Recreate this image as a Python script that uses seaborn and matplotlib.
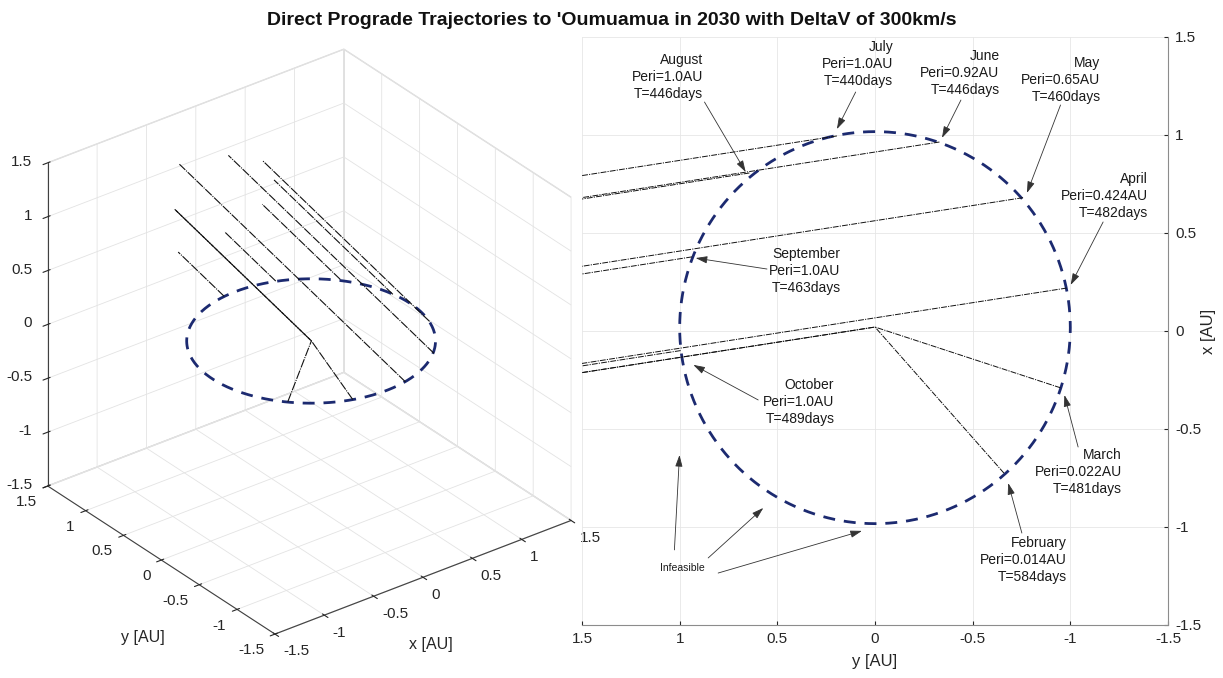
import numpy as np
import matplotlib
matplotlib.use("Agg")
import matplotlib.pyplot as plt
import seaborn as sns
from matplotlib.ticker import FormatStrFormatter

sns.set_style("white")
plt.rcParams['font.family'] = ['Liberation Sans', 'DejaVu Sans']
plt.rcParams['axes.unicode_minus'] = False
plt.rcParams['grid.color'] = '#e3e3e3'
plt.rcParams['grid.linewidth'] = 0.6

# launch month, Earth position on its orbit [AU]
months = ['February', 'March', 'April', 'May', 'June', 'July', 'August', 'September', 'October']
earth_x = [-0.725, -0.29, 0.219, 0.68, 0.964, 0.995, 0.806, 0.378, -0.10]
earth_y = [-0.66, -0.95, -0.982, -0.758, -0.33, 0.195, 0.643, 0.937, 0.995]
peri = ['0.014', '0.022', '0.424', '0.65', '0.92', '1.0', '1.0', '1.0', '1.0']
tof = [584, 481, 482, 460, 446, 440, 446, 463, 489]
# Feb / March swing round the Sun first
via_sun = [True, True, False, False, False, False, False, False, False]
sun_pass = (0.02, 0.0)
# outbound asymptote: change in x and z per AU of y
out_dx = -0.155
out_dz = 0.41

orbit_center = (0.017, 0.0)
orbit_r = 1.0
lim = 1.5
ticks = [-1.5, -1, -0.5, 0, 0.5, 1, 1.5]
tick_text = ['%g' % t for t in ticks]

# label placement in the top view (y of right edge, x of middle line) and arrows
label_y = [-0.982, -1.264, -1.398, -1.155, -0.637, -0.093, 0.879, 0.176, 0.208]
label_x = [-1.168, -0.719, 0.689, 1.28, 1.316, 1.362, 1.296, 0.306, -0.362]
tail_y = [-0.752, -1.04, -1.168, -0.95, -0.44, 0.099, 0.873, 0.553, 0.598]
tail_x = [-1.031, -0.592, 0.556, 1.153, 1.178, 1.219, 1.168, 0.316, -0.352]
head_y = [-0.682, -0.97, -1.002, -0.778, -0.343, 0.195, 0.662, 0.918, 0.93]
head_x = [-0.776, -0.327, 0.235, 0.704, 0.985, 1.03, 0.811, 0.372, -0.173]

infeasible_pos = (0.988, -1.209)
inf_tail_y = [1.027, 0.854, 0.803]
inf_tail_x = [-1.117, -1.158, -1.235]
inf_head_y = [1.001, 0.572, 0.067]
inf_head_x = [-0.633, -0.903, -1.02]

orbit_col = '#1c2a70'
traj_col = '#111111'
txt_col = '#262626'
orbit_dash = (4.3, 3.2)


def trajectory(i):
    xs, ys, zs = [earth_x[i]], [earth_y[i]], [0.0]
    if via_sun[i]:
        xs.append(sun_pass[0]); ys.append(sun_pass[1]); zs.append(0.0)
    t = lim - ys[-1]
    xs.append(xs[-1] + out_dx * t); ys.append(lim); zs.append(zs[-1] + out_dz * t)
    return np.array(xs), np.array(ys), np.array(zs)


theta = np.linspace(0, 2 * np.pi, 361)
orb_x = orbit_center[0] + orbit_r * np.cos(theta)
orb_y = orbit_center[1] + orbit_r * np.sin(theta)

fig = plt.figure(figsize=(12.23, 6.78), dpi=100)

# ---- 3D view ----
ax3 = fig.add_axes([0.0245, 0.0853, 0.445, 0.80], projection='3d', proj_type='ortho')
ax3.view_init(elev=30, azim=-127.5)
ax3.set_box_aspect((1, 1, 1), zoom=1.157)
ax3.plot(orb_x, orb_y, np.zeros_like(orb_x), color=orbit_col, lw=2.0, dashes=orbit_dash)
for i in range(len(months)):
    tx, ty, tz = trajectory(i)
    ax3.plot(tx, ty, tz, color=traj_col, lw=0.8, dashes=(8, 1, 1, 1))
ax3.set_xlim(-lim, lim); ax3.set_ylim(-lim, lim); ax3.set_zlim(-lim, lim)
ax3.set_xticks(ticks); ax3.set_yticks(ticks); ax3.set_zticks(ticks)
ax3.set_xticklabels(tick_text, ha='left', va='center')
ax3.set_yticklabels(tick_text, ha='right', va='center')
ax3.set_zticklabels(tick_text, ha='right', va='center')
for a in (ax3.xaxis, ax3.yaxis, ax3.zaxis):
    a.set_pane_color((1, 1, 1, 1))
    a.pane.set_edgecolor('#d9d9d9')
    a.line.set_color('#404040')
    a.line.set_linewidth(0.8)
ax3.tick_params(labelsize=11, colors=txt_col)
ax3.xaxis.set_tick_params(pad=-0.5)
ax3.yaxis.set_tick_params(pad=-0.5)
ax3.zaxis.set_tick_params(pad=-2)
ax3.patch.set_alpha(0)
fig.text(0.117, 0.059, 'y [AU]', ha='center', va='center', fontsize=11.5, color=txt_col)
fig.text(0.3525, 0.049, 'x [AU]', ha='center', va='center', fontsize=11.5, color=txt_col)

# ---- top view ----
ax = fig.add_axes([0.4759, 0.0782, 0.4791, 0.8673])
ax.set_facecolor('none')
sns.lineplot(x=orb_y, y=orb_x, sort=False, estimator=None, ax=ax,
             color=orbit_col, lw=2.0, dashes=False)
ax.lines[-1].set_dashes(orbit_dash)
for i in range(len(months)):
    tx, ty, tz = trajectory(i)
    sns.lineplot(x=ty, y=tx, sort=False, estimator=None, ax=ax, color=traj_col, lw=0.7)
    ax.lines[-1].set_dashes((6, 1.2, 1.2, 1.2))

ax.set_xlim(lim, -lim)
ax.set_ylim(-lim, lim)
ax.set_xticks(ticks); ax.set_yticks(ticks)
ax.xaxis.set_major_formatter(FormatStrFormatter('%g'))
ax.yaxis.set_major_formatter(FormatStrFormatter('%g'))
ax.yaxis.tick_right()
ax.yaxis.set_label_position('right')
ax.grid(True, color='#e6e6e6', lw=0.6)
for s in ('top', 'left'):
    ax.spines[s].set_visible(False)
for s in ('bottom', 'right'):
    ax.spines[s].set_color('#8c8c8c')
    ax.spines[s].set_linewidth(0.8)
ax.tick_params(direction='in', length=3, labelsize=11, colors=txt_col, pad=5,
               bottom=True, right=True)
ax.set_xlabel('y [AU]', fontsize=12, color=txt_col, labelpad=6)
ax.set_ylabel('x [AU]', fontsize=12, color=txt_col, labelpad=0)

note_font = dict(family=['Liberation Sans'], size=10, color='#1a1a1a')
arrow = dict(arrowstyle='-|>,head_length=0.7,head_width=0.22', color='#333333', lw=0.6,
             shrinkA=0, shrinkB=0)
for i, m in enumerate(months):
    ax.text(label_y[i], label_x[i], f'{m}\nPeri={peri[i]}AU\nT={tof[i]}days',
            ha='right', va='center', multialignment='right', linespacing=1.3, **note_font)
    ax.annotate('', xy=(head_y[i], head_x[i]), xytext=(tail_y[i], tail_x[i]), arrowprops=arrow)
ax.text(infeasible_pos[0], infeasible_pos[1], 'Infeasible', ha='center', va='center',
        family=['Liberation Sans'], size=7.5, color='#1a1a1a')
for j in range(len(inf_tail_y)):
    ax.annotate('', xy=(inf_head_y[j], inf_head_x[j]), xytext=(inf_tail_y[j], inf_tail_x[j]),
                arrowprops=arrow)

fig.text(0.5, 0.9705, "Direct Prograde Trajectories to 'Oumuamua in 2030 with DeltaV of 300km/s",
         ha='center', va='center', fontsize=14, fontweight='bold', color='#111111')

fig.savefig('out.png', dpi=100)
